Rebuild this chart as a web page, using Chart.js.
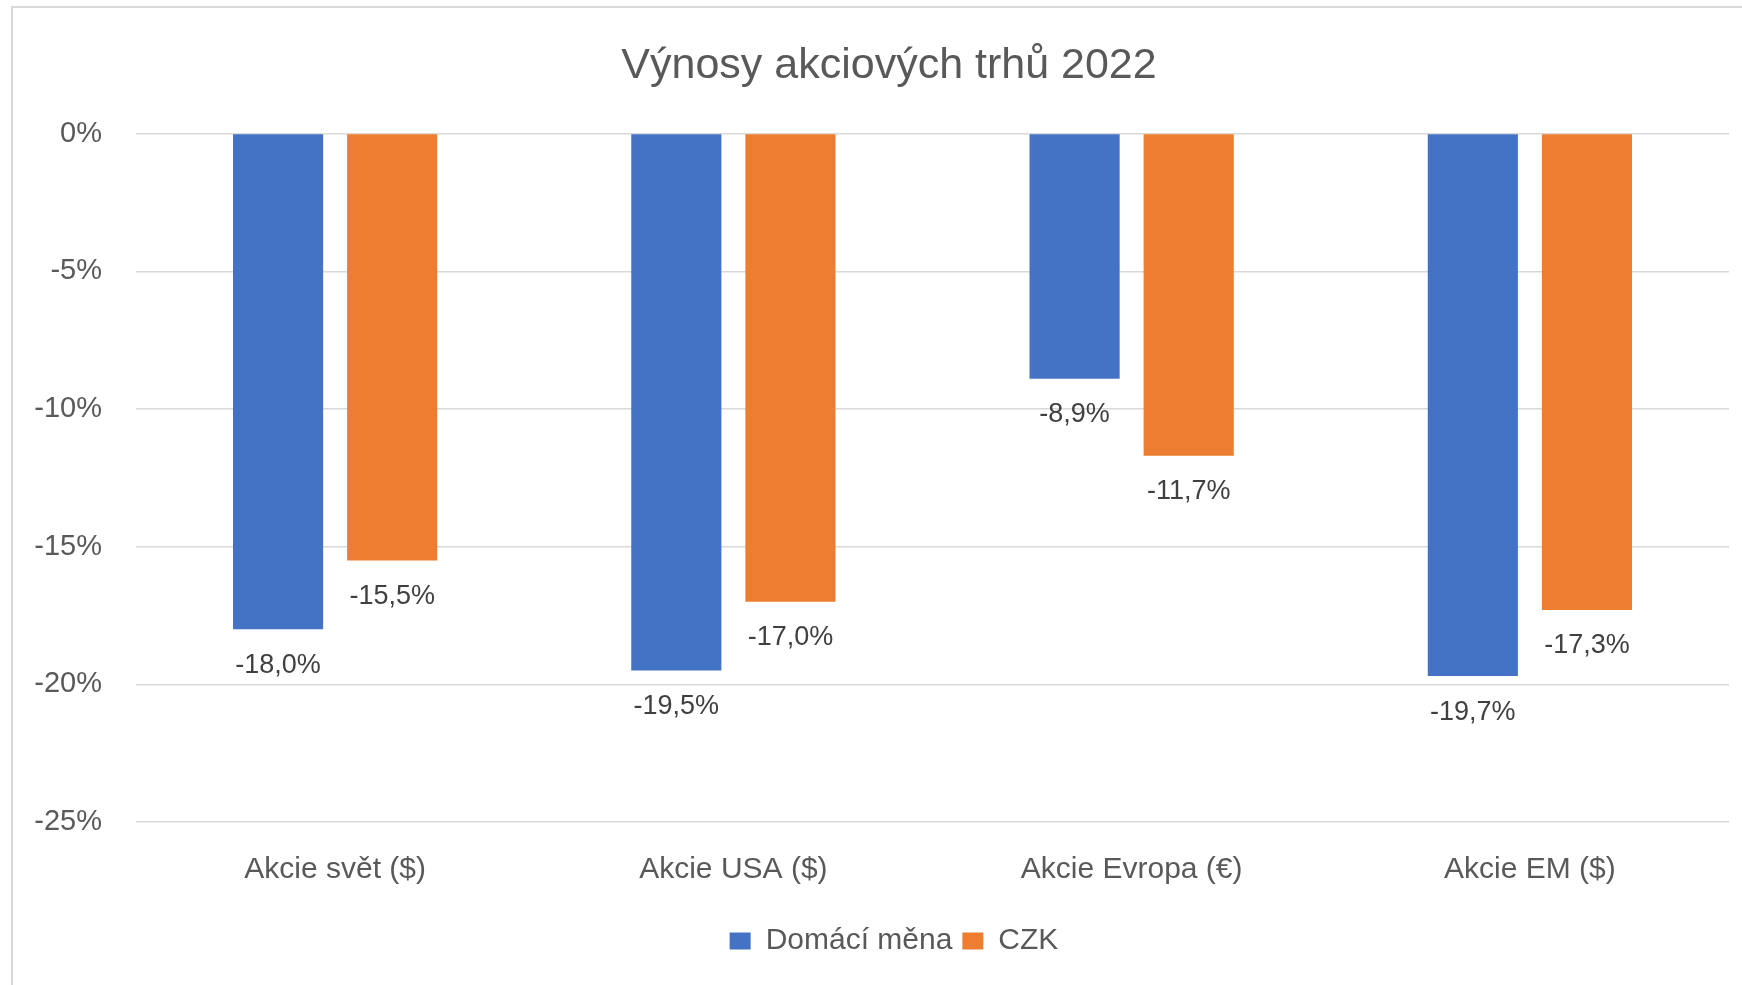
<!DOCTYPE html>
<html>
<head>
<meta charset="utf-8">
<script src="https://cdn.jsdelivr.net/npm/chart.js@4/dist/chart.umd.min.js"></script>
<style>
  html, body { margin: 0; padding: 0; background: #fff; overflow: hidden; }
  #frame {
    position: absolute; left: 11px; top: 6px;
    width: 1800px; height: 1100px;
    border: 2px solid #d9d9d9;
  }
  #wrap { position: absolute; left: 0; top: 0; width: 1742px; height: 985px; }
</style>
</head>
<body>
<div id="frame"></div>
<div id="wrap"><canvas id="chart"></canvas></div>
<script>
// Výnosy akciových trhů 2022
const categories = ['Akcie svět ($)', 'Akcie USA ($)', 'Akcie Evropa (€)', 'Akcie EM ($)'];
const domaciMena = [-18.0, -19.5, -8.9, -19.7];
const czk = [-15.5, -17.0, -11.7, -17.3];
const seriesNames = ['Domácí měna', 'CZK'];

const FONT = "'Liberation Sans', Arial, sans-serif";
const TEXT = '#595959';

// popisky hodnot pod konci sloupců
const valueLabels = {
  id: 'valueLabels',
  afterDatasetsDraw(chart) {
    const ctx = chart.ctx;
    ctx.save();
    ctx.font = '27px ' + FONT;
    ctx.fillStyle = '#404040';
    ctx.textAlign = 'center';
    ctx.textBaseline = 'middle';
    chart.data.datasets.forEach((ds, i) => {
      chart.getDatasetMeta(i).data.forEach((bar, j) => {
        const txt = ds.data[j].toFixed(1).replace('.', ',') + '%';
        ctx.fillText(txt, bar.x, bar.y + 36);
      });
    });
    ctx.restore();
  }
};

// Excel centruje nadpis a legendu trochu víc vpravo
const shiftBlocks = {
  id: 'shiftBlocks',
  afterLayout(chart) {
    if (chart.titleBlock) { chart.titleBlock.left += 18; chart.titleBlock.right += 18; }
    if (chart.legend) { chart.legend.left += 23; chart.legend.right += 23; }
  }
};

new Chart(document.getElementById('chart'), {
  type: 'bar',
  data: {
    labels: categories,
    datasets: [
      { label: seriesNames[0], data: domaciMena, backgroundColor: '#4472C4' },
      { label: seriesNames[1], data: czk, backgroundColor: '#ED7D31' }
    ]
  },
  options: {
    responsive: true,
    maintainAspectRatio: false,
    animation: false,
    categoryPercentage: 0.573,
    barPercentage: 0.79,
    layout: { padding: { left: 13, right: 13, top: 0, bottom: 19 } },
    plugins: {
      title: {
        display: true,
        text: 'Výnosy akciových trhů 2022',
        color: TEXT,
        font: { family: FONT, size: 43, weight: 'normal', lineHeight: 1.2 },
        padding: { top: 40, bottom: 42 }
      },
      legend: {
        position: 'bottom',
        labels: {
          color: TEXT,
          font: { family: FONT, size: 30 },
          boxWidth: 21,
          boxHeight: 17,
          padding: 10
        }
      },
      tooltip: { enabled: false }
    },
    scales: {
      x: {
        grid: { display: false, drawTicks: false },
        border: { display: false },
        ticks: { color: TEXT, font: { family: FONT, size: 30 }, padding: 30 },
        afterFit(scale) { scale.height = 94; }
      },
      y: {
        min: -25,
        max: 0,
        grid: { color: '#d9d9d9', lineWidth: 1.5, drawTicks: false },
        border: { display: false },
        ticks: {
          stepSize: 5,
          color: TEXT,
          font: { family: FONT, size: 29 },
          padding: 34,
          callback: v => v + '%'
        },
        afterFit(scale) { scale.width = 123; }
      }
    }
  },
  plugins: [valueLabels, shiftBlocks]
});
</script>
</body>
</html>
